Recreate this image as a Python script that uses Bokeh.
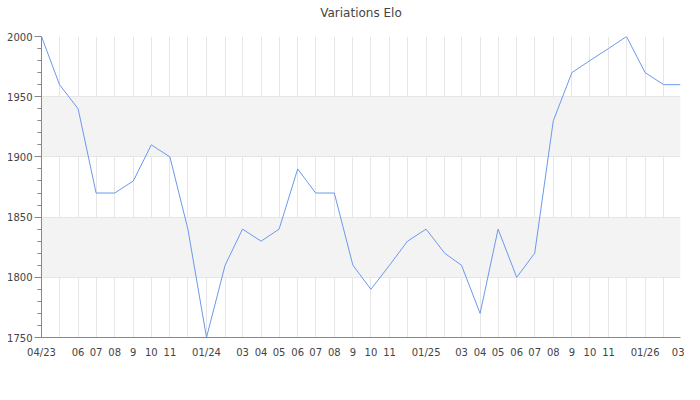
import pandas as pd
from bokeh.plotting import figure
from bokeh.models import Range1d, FixedTicker, SingleIntervalTicker, Title
from bokeh.embed import file_html
from bokeh.resources import INLINE

# ---- data ----
months = pd.date_range("2023-04-01", "2026-03-01", freq="MS")
elo = [2000, 1960, 1940, 1870, 1870, 1880, 1910, 1900, 1840,
       1750, 1810, 1840, 1830, 1840, 1890, 1870, 1870, 1810, 1790, 1810, 1830,
       1840, 1820, 1810, 1770, 1840, 1800, 1820, 1930, 1970, 1980, 1990, 2000,
       1970, 1960, 1960]
tick_labels = ["04/23", "", "06", "07", "08", "9", "10", "11", "",
               "01/24", "", "03", "04", "05", "06", "07", "08", "9", "10", "11", "",
               "01/25", "", "03", "04", "05", "06", "07", "08", "9", "10", "11", "",
               "01/26", "", "03"]
title_text = "Variations Elo"

FONT = "DejaVu Sans"
TXT = "#444444"

tick_ms = [int(t.value // 10**6) for t in months]

p = figure(width=684, height=384, x_axis_type="datetime",
           output_backend="svg", toolbar_location=None,
           title=title_text,
           x_range=Range1d(months[0], months[-1]),
           y_range=Range1d(1750, 2000),
           min_border_left=41, min_border_right=4,
           min_border_top=36, min_border_bottom=47)

# spacer between title and frame
p.add_layout(Title(text=" ", text_font_size="1px", standoff=7), "above")

p.line(months, elo, line_color="#6b98ee", line_width=1)

p.title.align = "center"
p.title.text_font = FONT
p.title.text_font_size = "12px"
p.title.text_font_style = "normal"
p.title.text_color = TXT
p.title.text_line_height = 1.0
p.title.vertical_align = "top"
p.title.standoff = 10

p.outline_line_color = None
p.background_fill_color = "white"
p.border_fill_color = "white"

# x axis
xticker = FixedTicker(ticks=tick_ms, minor_ticks=[])
p.xaxis.ticker = xticker
p.xgrid.ticker = xticker
p.xgrid.minor_grid_line_color = None
p.xaxis.major_label_overrides = {m: l for m, l in zip(tick_ms, tick_labels)}
p.xaxis.major_tick_out = 0
p.xaxis.major_tick_in = 0
p.xaxis.minor_tick_out = 0
p.xaxis.minor_tick_in = 0
p.xaxis.major_label_standoff = 9
p.xaxis.axis_line_color = "#888888"

# y axis
p.yaxis.ticker = SingleIntervalTicker(interval=50, num_minor_ticks=5)
p.yaxis.major_tick_out = 7
p.yaxis.major_tick_in = 0
p.yaxis.minor_tick_out = 4
p.yaxis.minor_tick_in = 0
p.yaxis.major_label_standoff = 2
p.yaxis.axis_line_color = "#888888"
p.yaxis.major_tick_line_color = "#888888"
p.yaxis.minor_tick_line_color = "#888888"

for ax in (p.xaxis, p.yaxis):
    ax.major_label_text_font = FONT
    ax.major_label_text_font_size = "10px"
    ax.major_label_text_color = TXT

p.xgrid.grid_line_color = "#e6e6e6"
p.ygrid.grid_line_color = "#e6e6e6"
p.ygrid.band_fill_color = "#f3f3f3"
p.ygrid.band_fill_alpha = 1.0

open("out.html", "w").write(file_html(p, INLINE))
